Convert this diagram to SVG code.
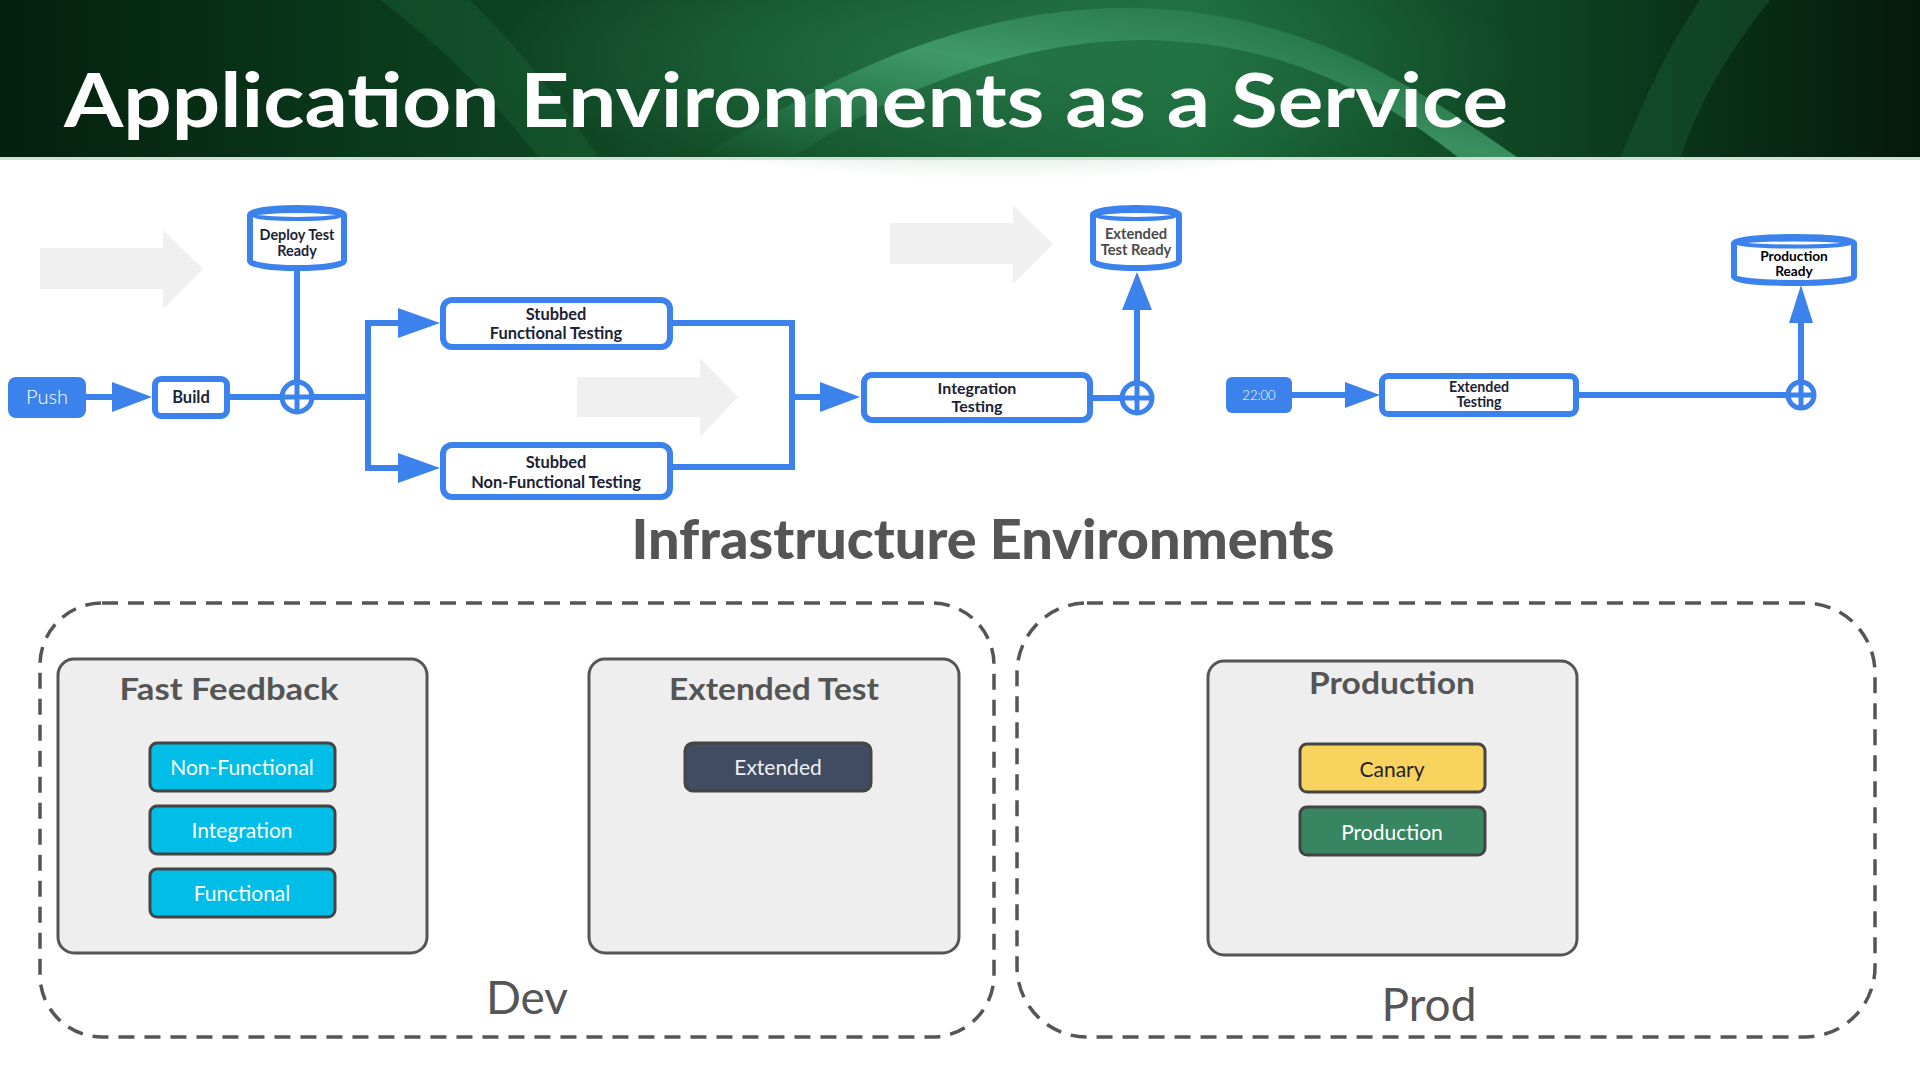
<svg xmlns="http://www.w3.org/2000/svg" width="1920" height="1080" viewBox="0 0 1920 1080">
<defs>
<linearGradient id="hdr" x1="0" y1="0" x2="1" y2="0">
<stop offset="0" stop-color="#04200e"/>
<stop offset="0.2" stop-color="#0a3a1c"/>
<stop offset="0.45" stop-color="#15562e"/>
<stop offset="0.62" stop-color="#1b6a3a"/>
<stop offset="0.8" stop-color="#0e4423"/>
<stop offset="1" stop-color="#04190b"/>
</linearGradient>
<linearGradient id="rib" x1="0" y1="1" x2="1" y2="0">
<stop offset="0" stop-color="#2f8a55" stop-opacity="0"/>
<stop offset="0.5" stop-color="#49a874" stop-opacity="0.75"/>
<stop offset="1" stop-color="#2f8a55" stop-opacity="0.1"/>
</linearGradient>
<radialGradient id="glow" cx="0.5" cy="0.5" r="0.5">
<stop offset="0" stop-color="#2d8150" stop-opacity="0.6"/>
<stop offset="1" stop-color="#2d8150" stop-opacity="0"/>
</radialGradient>
<style>
.blue{fill:#3b82ec}
.ln{stroke:#3b82ec;stroke-width:6;fill:none}
.box{fill:#ffffff;stroke:#3b82ec;stroke-width:6}
.ptxt{font-family:Lato,"Liberation Sans",sans-serif;font-weight:700;fill:#1b2236;text-anchor:middle}
.ghost{fill:#f0f0f0}
.env{fill:#eeeeee;stroke:#555555;stroke-width:3}
.envt{font-family:Lato,"Liberation Sans",sans-serif;font-weight:700;fill:#555555;text-anchor:middle;font-size:31px}
.chip{stroke:#444444;stroke-width:3}
.chipt{font-family:Lato,"Liberation Sans",sans-serif;font-weight:400;text-anchor:middle;font-size:21px}
.dash{fill:none;stroke:#555555;stroke-width:3.5;stroke-dasharray:16 10}
.big{font-family:Lato,"Liberation Sans",sans-serif;fill:#555555;text-anchor:middle;font-size:46px}
</style>
</defs>
<rect width="1920" height="1080" fill="#ffffff"/>
<g id="header">
<rect x="0" y="0" width="1920" height="159" fill="url(#hdr)"/>
<ellipse cx="1000" cy="60" rx="520" ry="120" fill="url(#glow)"/>
<path d="M700,159 C820,80 960,10 1120,8 C1300,6 1420,90 1520,159 L1460,159 C1380,95 1280,40 1140,40 C1000,42 880,100 790,159 Z" fill="url(#rib)"/>
<path d="M380,0 C460,60 500,110 540,159 L600,159 C560,100 520,50 470,0 Z" fill="#1d6a3b" opacity="0.35"/>
<path d="M1700,0 C1660,60 1640,110 1620,159 L1680,159 C1700,100 1730,50 1770,0 Z" fill="#1d6a3b" opacity="0.35"/>
<rect x="0" y="157" width="1920" height="3" fill="#cfe2d6"/>
<text x="64" y="127" font-family="Lato,'Liberation Sans',sans-serif" font-weight="700" font-size="75" fill="#ffffff" textLength="1444" lengthAdjust="spacingAndGlyphs">Application Environments as a Service</text>
</g>
<g id="ghost-arrows">
<polygon class="ghost" points="40,248 163,248 163,230 203,269 163,309 163,289 40,289"/>
<polygon class="ghost" points="577,377 700,377 700,358 738,397 700,437 700,417 577,417"/>
<polygon class="ghost" points="890,223 1013,223 1013,205 1053,244 1013,284 1013,264 890,264"/>
</g>
<g id="connectors">
<line class="ln" x1="86" y1="397" x2="114" y2="397"/>
<polygon class="blue" points="112,382 152,397 112,412"/>
<line class="ln" x1="229" y1="397" x2="282" y2="397"/>
<line class="ln" x1="297" y1="270" x2="297" y2="382"/>
<polyline class="ln" points="312,397 368,397"/>
<polyline class="ln" points="400,323 368,323 368,468 400,468"/>
<polygon class="blue" points="398,308 440,323 398,338"/>
<polygon class="blue" points="398,453 440,468 398,483"/>
<polyline class="ln" points="673,323 792,323 792,467 673,467"/>
<line class="ln" x1="792" y1="397" x2="822" y2="397"/>
<polygon class="blue" points="820,382 860,397 820,412"/>
<line class="ln" x1="1093" y1="398" x2="1121" y2="398"/>
<line class="ln" x1="1137" y1="382" x2="1137" y2="308"/>
<polygon class="blue" points="1122,310 1137,272 1152,310"/>
<line class="ln" x1="1292" y1="395" x2="1347" y2="395"/>
<polygon class="blue" points="1345,382 1380,395 1345,408"/>
<line class="ln" x1="1579" y1="395" x2="1787" y2="395"/>
<line class="ln" x1="1801" y1="381" x2="1801" y2="321"/>
<polygon class="blue" points="1789,323 1801,285 1813,323"/>
</g>
<g id="push">
<rect class="blue" x="8" y="377" width="78" height="41" rx="8"/>
<text x="47" y="404" font-family="Lato,'Liberation Sans',sans-serif" font-weight="300" font-size="20" fill="#ffffff" text-anchor="middle">Push</text>
</g>
<g id="build">
<rect class="box" x="155" y="379" width="72" height="37" rx="6"/>
<text class="ptxt" x="191" y="403" font-size="16.5">Build</text>
</g>
<g id="junction1">
<circle cx="297" cy="397" r="15" fill="#ffffff" stroke="#3b82ec" stroke-width="5"/>
<line class="ln" x1="282" y1="397" x2="312" y2="397" style="stroke-width:5"/>
<line class="ln" x1="297" y1="382" x2="297" y2="412" style="stroke-width:5"/>
</g>
<g id="deploy-test-ready">
<path class="box" d="M250,215 A47,7 0 0 1 344,215 V261 A47,7 0 0 1 250,261 Z"/>
<ellipse cx="297" cy="215" rx="44" ry="4" fill="none" stroke="#3b82ec" stroke-width="4"/>
<text class="ptxt" x="297" y="240" font-size="14.4">Deploy Test</text>
<text class="ptxt" x="297" y="256" font-size="14.4">Ready</text>
</g>
<g id="stubbed-functional">
<rect class="box" x="443" y="300" width="227" height="47" rx="9"/>
<text class="ptxt" x="556" y="320" font-size="16.4">Stubbed</text>
<text class="ptxt" x="556" y="339" font-size="16.4">Functional Testing</text>
</g>
<g id="stubbed-nonfunctional">
<rect class="box" x="443" y="445" width="227" height="52" rx="9"/>
<text class="ptxt" x="556" y="468" font-size="16.4">Stubbed</text>
<text class="ptxt" x="556" y="488" font-size="16.4">Non-Functional Testing</text>
</g>
<g id="integration-testing">
<rect class="box" x="864" y="375" width="226" height="45" rx="8"/>
<text class="ptxt" x="977" y="394" font-size="16">Integration</text>
<text class="ptxt" x="977" y="412" font-size="16">Testing</text>
</g>
<g id="junction2">
<circle cx="1137" cy="398" r="15" fill="#ffffff" stroke="#3b82ec" stroke-width="5"/>
<line class="ln" x1="1122" y1="398" x2="1152" y2="398" style="stroke-width:5"/>
<line class="ln" x1="1137" y1="383" x2="1137" y2="413" style="stroke-width:5"/>
</g>
<g id="extended-test-ready">
<path class="box" d="M1093,215 A43,7 0 0 1 1179,215 V261 A43,7 0 0 1 1093,261 Z"/>
<ellipse cx="1136" cy="215" rx="40" ry="4" fill="none" stroke="#3b82ec" stroke-width="4"/>
<text x="1136" y="239" font-family="Lato,'Liberation Sans',sans-serif" font-weight="700" font-size="14.7" fill="#4a4a4a" text-anchor="middle">Extended</text>
<text x="1136" y="255" font-family="Lato,'Liberation Sans',sans-serif" font-weight="700" font-size="14.7" fill="#4a4a4a" text-anchor="middle">Test Ready</text>
</g>
<g id="t2200">
<rect class="blue" x="1226" y="377" width="66" height="36" rx="6"/>
<text x="1259" y="400" font-family="Lato,'Liberation Sans',sans-serif" font-weight="300" font-size="13" fill="#ffffff" text-anchor="middle">22:00</text>
</g>
<g id="extended-testing">
<rect class="box" x="1382" y="376" width="194" height="38" rx="6"/>
<text class="ptxt" x="1479" y="392" font-size="14.2" fill="#000">Extended</text>
<text class="ptxt" x="1479" y="407" font-size="14.2">Testing</text>
</g>
<g id="junction3">
<circle cx="1801" cy="395" r="13" fill="#ffffff" stroke="#3b82ec" stroke-width="5"/>
<line class="ln" x1="1788" y1="395" x2="1814" y2="395" style="stroke-width:5"/>
<line class="ln" x1="1801" y1="382" x2="1801" y2="408" style="stroke-width:5"/>
</g>
<g id="production-ready">
<path class="box" d="M1734,243 A60,6 0 0 1 1854,243 V277 A60,6 0 0 1 1734,277 Z"/>
<ellipse cx="1794" cy="243" rx="57" ry="3.5" fill="none" stroke="#3b82ec" stroke-width="4"/>
<text x="1794" y="261" font-family="Lato,'Liberation Sans',sans-serif" font-weight="700" font-size="13.7" fill="#000" text-anchor="middle">Production</text>
<text x="1794" y="276" font-family="Lato,'Liberation Sans',sans-serif" font-weight="700" font-size="13.7" fill="#000" text-anchor="middle">Ready</text>
</g>
<g id="infra-title">
<text x="983" y="559" font-family="Lato,'Liberation Sans',sans-serif" font-weight="900" font-size="55" fill="#555555" text-anchor="middle" textLength="703" lengthAdjust="spacingAndGlyphs">Infrastructure Environments</text>
</g>
<g id="dev">
<rect class="dash" x="40" y="603" width="954" height="434" rx="62"/>
<text class="big" x="527" y="1014">Dev</text>
</g>
<g id="fast-feedback">
<rect class="env" x="58" y="659" width="369" height="294" rx="16"/>
<text class="envt" x="229" y="700" textLength="219" lengthAdjust="spacingAndGlyphs">Fast Feedback</text>
<rect class="chip" x="150" y="743" width="185" height="48" rx="7" fill="#00bee8"/>
<text class="chipt" x="242" y="775" fill="#ffffff">Non-Functional</text>
<rect class="chip" x="150" y="806" width="185" height="48" rx="7" fill="#00bee8"/>
<text class="chipt" x="242" y="838" fill="#ffffff">Integration</text>
<rect class="chip" x="150" y="869" width="185" height="48" rx="7" fill="#00bee8"/>
<text class="chipt" x="242" y="901" fill="#ffffff">Functional</text>
</g>
<g id="extended-test">
<rect class="env" x="589" y="659" width="370" height="294" rx="16"/>
<text class="envt" x="774" y="700" textLength="210" lengthAdjust="spacingAndGlyphs">Extended Test</text>
<rect class="chip" x="685" y="743" width="186" height="48" rx="8" fill="#404c61"/>
<text class="chipt" x="778" y="775" fill="#eef0f4">Extended</text>
</g>
<g id="prod">
<rect class="dash" x="1017" y="603" width="858" height="434" rx="70"/>
<text class="big" x="1429" y="1021">Prod</text>
</g>
<g id="production">
<rect class="env" x="1208" y="661" width="369" height="294" rx="16"/>
<text class="envt" x="1392" y="694" textLength="166" lengthAdjust="spacingAndGlyphs">Production</text>
<rect class="chip" x="1300" y="744" width="185" height="48" rx="7" fill="#f8d35e"/>
<text class="chipt" x="1392" y="777" fill="#222222">Canary</text>
<rect class="chip" x="1300" y="807" width="185" height="48" rx="7" fill="#388562"/>
<text class="chipt" x="1392" y="840" fill="#ffffff">Production</text>
</g>
</svg>
